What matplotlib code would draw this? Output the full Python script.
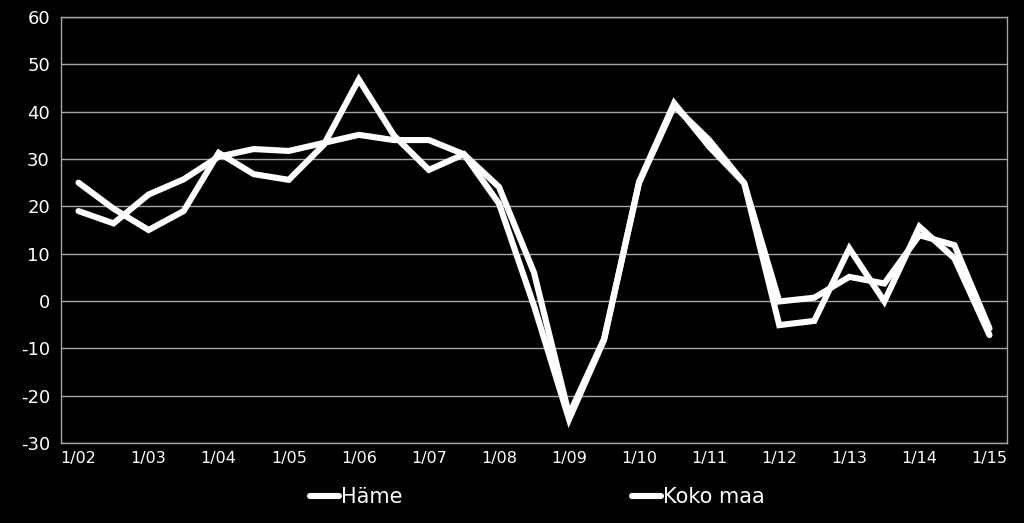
import matplotlib
matplotlib.use("Agg")
import matplotlib.pyplot as plt
from matplotlib import font_manager

# semiannual observations 1/02 ... 1/15
periods = ["1/%02d" % (y % 100) if h == 0 else "7/%02d" % (y % 100)
           for y in range(2002, 2016) for h in (0, 1)][:27]
hame = [25, 19.5, 15, 19, 31.3, 26.8, 25.6, 33, 46.8, 35, 27.7, 31, 20.6, -1,
        -25, -8.2, 25.2, 41.8, 32.6, 24.9, -5.1, -4.2, 11.1, -0.1, 15.7, 9.0, -7.2]
koko_maa = [19, 16.4, 22.5, 25.7, 30.5, 32.1, 31.7, 33.4, 35.1, 34, 34, 31, 24.1, 6,
            -24, -8, 25, 41.2, 34, 24.9, -0.1, 0.7, 5.1, 3.7, 13.9, 11.8, -5.8]
yticks = list(range(-30, 61, 10))

names = {f.name for f in font_manager.fontManager.ttflist}
narrow = "Liberation Sans Narrow" if "Liberation Sans Narrow" in names else "DejaVu Sans"

fig = plt.figure(figsize=(10.24, 5.23), dpi=100, facecolor="black")
ax = fig.add_axes([61 / 1024, 1 - 443 / 523, 946 / 1024, 426 / 523])
ax.set_facecolor("black")

x = list(range(len(periods)))
ax.plot(x, hame, color="white", lw=4.4, label="Häme", solid_joinstyle="miter", solid_capstyle="round")
ax.plot(x, koko_maa, color="white", lw=4.4, label="Koko maa", solid_joinstyle="miter", solid_capstyle="round")

ax.set_xlim(-0.5, len(periods) - 0.5)
ax.set_ylim(-30, 60)
ax.set_yticks(yticks)
ax.set_yticklabels([str(v) for v in yticks], color="white", fontsize=13, family="DejaVu Sans")
ax.set_xticks(x[::2])
ax.set_xticklabels(periods[::2], color="white", fontsize=11.5, family=narrow)
ax.tick_params(length=0, pad=6)
ax.tick_params(axis="y", pad=8)
ax.grid(axis="y", color="#a6a6a6", lw=1)
ax.set_axisbelow(True)
for s in ax.spines.values():
    s.set_color("#a6a6a6")
    s.set_linewidth(1)

leg = fig.legend(loc="center", bbox_to_anchor=(0.525, 1 - 497 / 523), ncol=2, frameon=False,
                 prop={"family": narrow, "size": 15}, handlelength=1.4, handletextpad=0.1,
                 columnspacing=11)
for t in leg.get_texts():
    t.set_color("white")

fig.savefig("out.png", dpi=100, facecolor="black")
